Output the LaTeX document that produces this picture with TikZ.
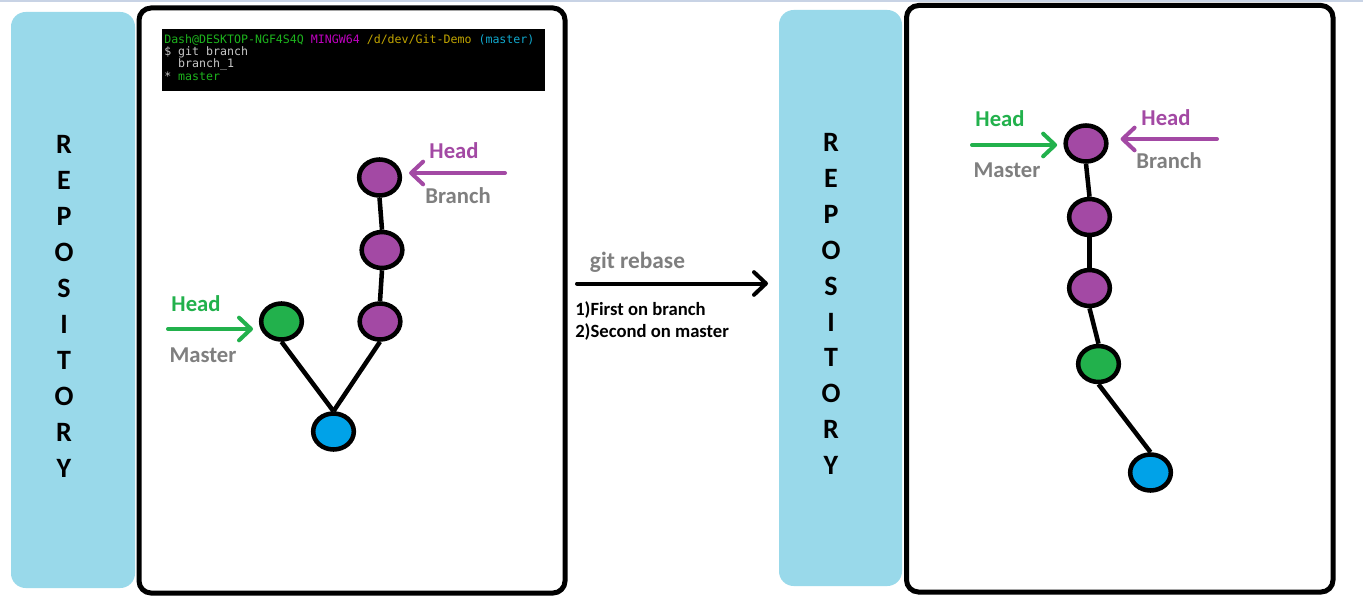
\documentclass[tikz,border=0pt]{standalone}
\usepackage{fontspec}
\setmainfont{Carlito}
\newfontfamily\mono{DejaVu Sans Mono}
\usetikzlibrary{arrows.meta,shapes.geometric}
\definecolor{purp}{HTML}{A349A4}
\definecolor{grn}{HTML}{22B14C}
\definecolor{blu}{HTML}{00A2E8}
\definecolor{gry}{HTML}{7F7F7F}
\definecolor{lblue}{HTML}{99D9EA}
\definecolor{topline}{HTML}{C8D3E5}
\definecolor{tgreen}{HTML}{1DB41D}
\definecolor{tmag}{HTML}{C000C0}
\definecolor{tyel}{HTML}{C0A400}
\definecolor{tcyan}{HTML}{11A8CD}
\definecolor{tgray}{HTML}{C8C8C8}
\tikzset{
  repobar/.style={fill=lblue, draw=none, rounded corners=11pt},
  panel/.style={draw=black, line width=3.75pt, rounded corners=9pt, fill=white},
  commit/.style={ellipse, draw=black, line width=3.4pt, inner sep=0pt, minimum width=30.5pt, minimum height=27pt},
  link/.style={draw=black, line width=3.4pt},
  ptr/.style={line width=3pt, line cap=round, -{Straight Barb[length=9pt,width=17pt,round]}},
  lbl/.style={font=\bfseries\fontsize{17}{20}\selectfont, anchor=base, inner sep=0pt},
  letter/.style={font=\bfseries\fontsize{21}{24}\selectfont, anchor=base, inner sep=0pt},
  term/.style={font=\mono\fontsize{8.7}{10}\selectfont, anchor=base west, inner sep=0pt},
  note/.style={font=\bfseries\fontsize{14}{16}\selectfont, anchor=base west, inner sep=0pt},
}
\begin{document}
\begin{tikzpicture}[x=0.75pt,y=-0.75pt]
\useasboundingbox (0,0) rectangle (1363,610);
\fill[white] (0,0) rectangle (1363,610);
\draw[topline, line width=1.2pt] (0,0.8) -- (1363,0.8);

% repository bars
\fill[repobar] (11,12) rectangle (135,588);
\fill[repobar] (779,10) rectangle (902,586);
\foreach \c [count=\i from 0] in {R,E,P,O,S,I,T,O,R,Y} {
  \node[letter] (ll\i) at (64,153+36*\i) {\c};
  \node[letter] (rl\i) at (831,151.5+35.9*\i) {\c};
}

% panels
\draw[panel] (139,8) rectangle (565,593);
\draw[panel] (906.5,5.5) rectangle (1333,592);

% terminal
\fill[black] (162,29) rectangle (545,91);
\node[term] (t1) at (164,44) {\textcolor{tgreen}{Dash@DESKTOP-NGF4S4Q} \textcolor{tmag}{MINGW64} \textcolor{tyel}{/d/dev/Git-Demo} \textcolor{tcyan}{(master)}};
\node[term, text=tgray] (t2) at (164,56) {\$ git branch};
\node[term, text=tgray] (t3) at (164,68) {\ \ branch\_1};
\node[term] (t4) at (164,80) {\textcolor{tgray}{*} \textcolor{tgreen}{master}};

% left graph
\node[commit, fill=purp] (la3) at (379.5,177.5) {};
\node[commit, fill=purp] (la2) at (382,250) {};
\node[commit, fill=purp] (la1) at (380,321.5) {};
\node[commit, fill=grn]  (lm)  at (281.5,321.5) {};
\node[commit, fill=blu]  (lb)  at (333.5,431.5) {};
\draw[link] (la3.south) -- (la2.north);
\draw[link] (la2.south) -- (la1.north);
\draw[link] (lm.south) -- (lb.north);
\draw[link] (la1.south) -- (lb.north);

\coordinate (lbt) at (505,173);
\coordinate (lmt) at (168,329);
\draw[ptr, purp, shorten >=5.25pt] (lbt) -- (lbt -| la3.east);
\draw[ptr, grn, shorten >=4.4pt] (lmt) -- (lmt -| lm.west);
\node[lbl, text=purp] (lhb) at (454,158) {Head};
\node[lbl, text=gry]  (lbr) at (458,203) {Branch};
\node[lbl, text=grn]  (lhm) at (196,311) {Head};
\node[lbl, text=gry]  (lms) at (203,362) {Master};

% middle
\coordinate (r0) at (577,283.5);
\coordinate (r1) at (768,283.5);
\draw[ptr, black] (r0) -- (r1);
\node[lbl, text=gry, font=\bfseries\fontsize{17.5}{20}\selectfont] (reb) at (637.5,268) {git rebase};
\node[note] (n1) at (575,315) {1)First on branch};
\node[note] (n2) at (575,337.5) {2)Second on master};

% right graph
\node[commit, fill=purp] (ra3) at (1086,143.5) {};
\node[commit, fill=purp] (ra2) at (1089.5,217) {};
\node[commit, fill=purp] (ra1) at (1089.5,288) {};
\node[commit, fill=grn]  (rm)  at (1098.5,364) {};
\node[commit, fill=blu]  (rb)  at (1150.5,472.5) {};
\draw[link] (ra3.south) -- (ra2.north);
\draw[link] (ra2.south) -- (ra1.north);
\draw[link] (ra1.south) -- (rm.north);
\draw[link] (rm.south) -- (rb.north);

\coordinate (rmt) at (972,145);
\coordinate (rbt) at (1217,139);
\draw[ptr, grn, shorten >=4.7pt] (rmt) -- (rmt -| ra3.west);
\draw[ptr, purp, shorten >=9pt] (rbt) -- (rbt -| ra3.east);
\node[lbl, text=grn]  (rhm) at (1000,127) {Head};
\node[lbl, text=gry]  (rms) at (1007,177) {Master};
\node[lbl, text=purp] (rhb) at (1166,125) {Head};
\node[lbl, text=gry]  (rbr) at (1169,168) {Branch};
\end{tikzpicture}
\end{document}
